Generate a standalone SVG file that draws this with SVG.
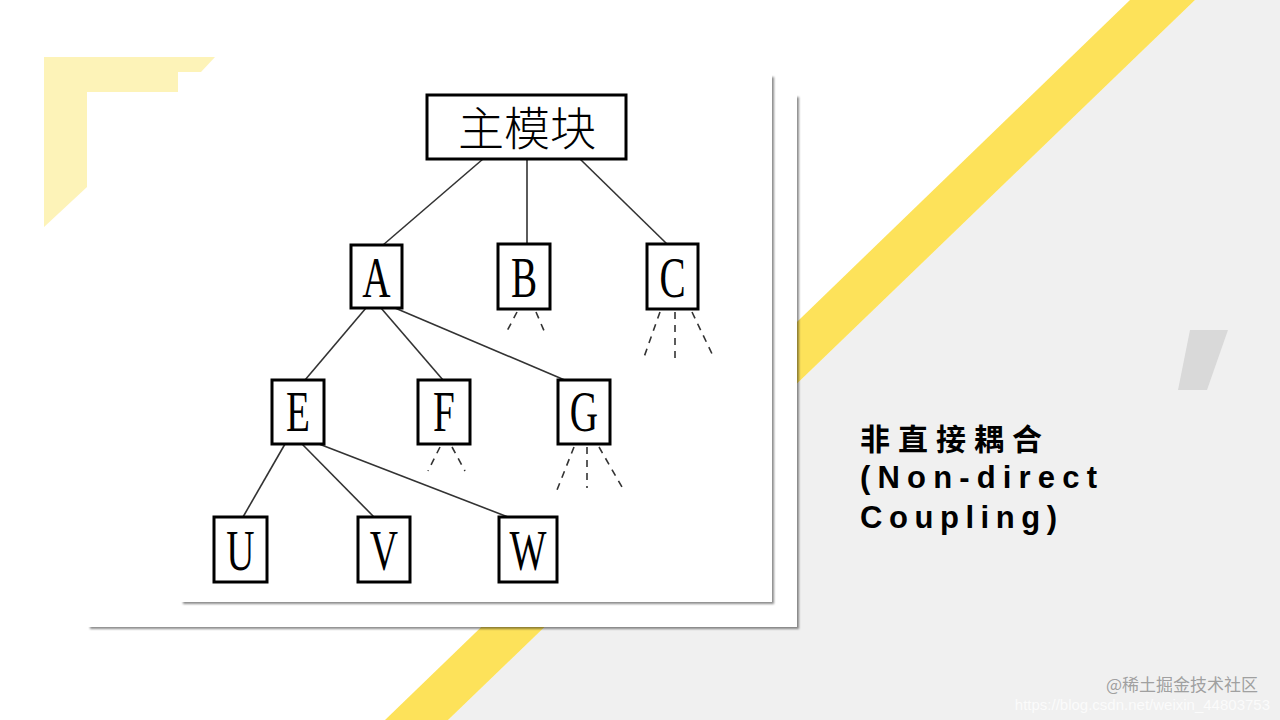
<svg xmlns="http://www.w3.org/2000/svg" width="1280" height="720" viewBox="0 0 1280 720">
  <defs>
    <filter id="shadow" x="-5%" y="-5%" width="110%" height="110%">
      <feDropShadow dx="2" dy="2" stdDeviation="1.2" flood-color="#000" flood-opacity="0.45"/>
    </filter>
  </defs>
  <style>
    .box { fill: #ffffff; stroke: #000; stroke-width: 3; }
    .lbl { font-family: "Liberation Serif", "Times New Roman", serif; font-size: 56px; fill: #000; text-anchor: middle; }
    .cjk { font-family: "Noto Sans CJK SC", "Liberation Serif", serif; font-size: 46px; fill: #000; text-anchor: middle; font-weight: 300; }
    .edge { stroke: #333; stroke-width: 1.6; fill: none; }
    .stub { stroke: #333; stroke-width: 1.6; fill: none; stroke-dasharray: 7 6; }
    .title { font-family: "Noto Sans CJK SC", sans-serif; font-weight: bold; font-size: 30px; fill: #000; }
    .titlel { font-family: "Liberation Sans", Arial, sans-serif; font-weight: bold; font-size: 31px; fill: #000; }
  </style>

  <!-- background -->
  <rect x="0" y="0" width="1280" height="720" fill="#ffffff"/>
  <polygon points="1195,0 1280,0 1280,720 448,720" fill="#f0f0f0"/>
  <polygon points="1130,0 1195,0 448,720 385,720" fill="#fde25a"/>
  <polygon points="1190,330 1228,330 1207,390 1178,390" fill="#d9d9d9"/>
  <polygon points="44,57 215,57 201,72 178,72 178,92 87,92 87,187 44,227" fill="#fdf3b8"/>

  <!-- picture frames -->
  <rect x="88" y="95" width="709" height="532" fill="#ffffff" filter="url(#shadow)"/>
  <rect x="181" y="75" width="591" height="527" fill="#ffffff" filter="url(#shadow)"/>

  <!-- connectors -->
  <g id="connectors">
    <line class="edge" x1="483" y1="159" x2="383" y2="245"/>
    <line class="edge" x1="527" y1="159" x2="527" y2="244"/>
    <line class="edge" x1="580" y1="159" x2="667" y2="244"/>
    <line class="edge" x1="366" y1="308" x2="305" y2="380"/>
    <line class="edge" x1="381" y1="308" x2="443" y2="380"/>
    <line class="edge" x1="395" y1="308" x2="567" y2="381"/>
    <line class="edge" x1="285" y1="444" x2="243" y2="517"/>
    <line class="edge" x1="302" y1="444" x2="374" y2="517"/>
    <line class="edge" x1="319" y1="444" x2="508" y2="517"/>
    <!-- dashed stubs -->
    <line class="stub" x1="517" y1="312" x2="506" y2="333"/>
    <line class="stub" x1="536" y1="312" x2="545" y2="333"/>
    <line class="stub" x1="660" y1="312" x2="643" y2="360"/>
    <line class="stub" x1="675" y1="312" x2="675" y2="360"/>
    <line class="stub" x1="692" y1="312" x2="714" y2="358"/>
    <line class="stub" x1="440" y1="447" x2="428" y2="471"/>
    <line class="stub" x1="452" y1="447" x2="465" y2="471"/>
    <line class="stub" x1="574" y1="447" x2="557" y2="490"/>
    <line class="stub" x1="587" y1="447" x2="587" y2="488"/>
    <line class="stub" x1="599" y1="447" x2="622" y2="487"/>
  </g>

  <!-- nodes -->
  <g id="main">
    <rect class="box" x="427" y="95" width="199" height="64"/>
    <text class="cjk" x="527" y="145">主模块</text>
  </g>
  <g id="A">
    <rect class="box" x="351" y="245" width="51" height="63"/>
    <text class="lbl" transform="translate(376.5,297) scale(0.7,1)">A</text>
  </g>
  <g id="B">
    <rect class="box" x="498" y="244" width="52" height="65"/>
    <text class="lbl" transform="translate(524,297) scale(0.7,1)">B</text>
  </g>
  <g id="C">
    <rect class="box" x="647" y="244" width="51" height="65"/>
    <text class="lbl" transform="translate(672.5,297) scale(0.7,1)">C</text>
  </g>
  <g id="E">
    <rect class="box" x="272" y="380" width="52" height="64"/>
    <text class="lbl" transform="translate(298,431) scale(0.7,1)">E</text>
  </g>
  <g id="F">
    <rect class="box" x="418" y="380" width="52" height="64"/>
    <text class="lbl" transform="translate(444,431) scale(0.7,1)">F</text>
  </g>
  <g id="G">
    <rect class="box" x="558" y="380" width="52" height="64"/>
    <text class="lbl" transform="translate(584,431) scale(0.7,1)">G</text>
  </g>
  <g id="U">
    <rect class="box" x="214" y="517" width="53" height="65"/>
    <text class="lbl" transform="translate(240.5,570) scale(0.7,1)">U</text>
  </g>
  <g id="V">
    <rect class="box" x="358" y="517" width="52" height="65"/>
    <text class="lbl" transform="translate(384,570) scale(0.7,1)">V</text>
  </g>
  <g id="W">
    <rect class="box" x="499" y="517" width="58" height="65"/>
    <text class="lbl" transform="translate(528,570) scale(0.7,1)">W</text>
  </g>

  <!-- caption -->
  <g id="caption">
    <text class="title" x="860" y="450" textLength="182" lengthAdjust="spacing">非直接耦合</text>
    <text class="titlel" x="860" y="488" textLength="237" lengthAdjust="spacing">(Non-direct</text>
    <text class="titlel" x="860" y="528" textLength="197" lengthAdjust="spacing">Coupling)</text>
  </g>

  <!-- watermarks -->
  <text x="1270" y="710" font-family="Liberation Sans, Arial, sans-serif" font-size="15" fill="#ffffff" fill-opacity="0.75" text-anchor="end">https://blog.csdn.net/weixin_44803753</text>
  <text x="1258" y="691" font-family="Noto Sans CJK SC, sans-serif" font-size="17" fill="#8a8a8a" fill-opacity="0.8" text-anchor="end">@稀土掘金技术社区</text>
</svg>
